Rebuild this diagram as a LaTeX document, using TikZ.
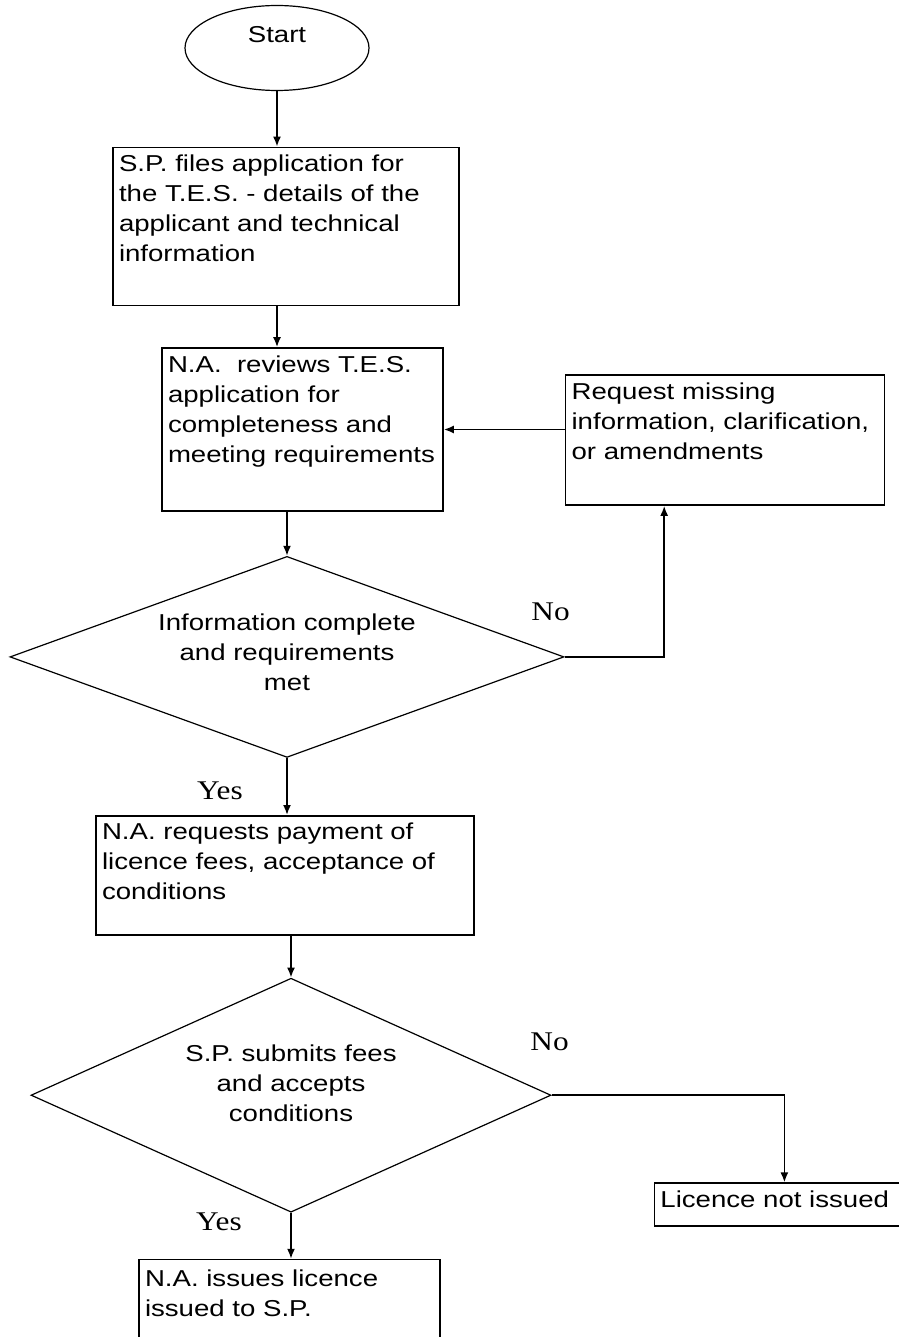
\documentclass[tikz,border=0pt]{standalone}
\usepackage{fontspec}
\setmainfont{Liberation Sans}[FakeStretch=1.2]
\newfontfamily\answerFont{Liberation Serif}[FakeStretch=1.16]
\usepackage{xcolor}
\definecolor{lineDark}{HTML}{000000}
\usetikzlibrary{shapes,positioning,calc,arrows.meta}
\tikzset{
  startOval/.style={
    ellipse,
    draw=lineDark,
    line width=1.2pt,
    minimum width=184pt,
    minimum height=85pt,
    inner sep=0pt,
    text height=17pt,
    text depth=27pt,
    font=\fontsize{23pt}{30pt}\selectfont
 },
  procBox/.style={
    rectangle,
    draw=lineDark,
    line width=1.6pt,
    inner xsep=6pt,
    inner ysep=3pt,
    text height=21pt,
    align=left,
    font=\fontsize{23pt}{30pt}\selectfont
 },
  decisionBox/.style={
    diamond,
    draw=lineDark,
    line width=1.2pt,
    inner sep=0pt,
    text height=17pt,
    align=center,
    font=\fontsize{23pt}{30pt}\selectfont
 },
  answerText/.style={
    inner sep=0pt,
    font=\answerFont\fontsize{27pt}{27pt}\selectfont
 },
  arrowLine/.style={
    -{Latex[length=10pt,width=8pt]},
    line width=1.8pt,
    color=lineDark
 }
}
\begin{document}
\begin{tikzpicture}[x=1pt, y=1pt]
            \useasboundingbox (0,0) rectangle (898,-1337);
            \node[startOval] (start) at (277,-48) {Start};
            \node[procBox, text width=334pt, text depth=131pt, below=55.5pt of start, xshift=9pt] (files) {S.P. files application for\\the T.E.S. - details of the\\applicant and technical\\information};
            \node[procBox, text width=269pt, text depth=136pt, below=41pt of files, xshift=16.5pt] (reviews) {N.A.~ reviews T.E.S.\\application for\\completeness and\\meeting requirements};
            \node[procBox, text width=307pt, text depth=103pt, right=121pt of reviews, yshift=-10.5pt] (request) {Request missing\\information, clarification,\\or amendments};
            \node[decisionBox, text width=262pt, text depth=70pt, aspect=2.76, minimum width=554pt, minimum height=201pt, below=44pt of reviews, xshift=-15.5pt] (complete) {Information complete\\and requirements\\met};
            \node[procBox, text width=366pt, text depth=92pt, below=57pt of complete, xshift=-2pt] (payment) {N.A. requests payment of\\licence fees, acceptance of\\conditions};
            \node[decisionBox, text width=230pt, text depth=85pt, aspect=2.22, minimum width=520pt, minimum height=234pt, below=42pt of payment, xshift=6pt] (submit) {S.P. submits fees\\and accepts\\conditions};
            \node[procBox, text width=248pt, text depth=16pt, right=102pt of submit, yshift=-109.5pt] (notIssued) {Licence not issued};
            \node[procBox, text width=289pt, text height=24pt, text depth=110pt, below=46pt of submit, xshift=-1.5pt] (issued) {N.A. issues licence\\issued to S.P.};

            % Yes / No answers
            \node[answerText, above=35.5pt of complete.east, xshift=-14pt] (noComplete) {No};
            \node[answerText, below=24pt of complete.south, xshift=-67pt] (yesComplete) {Yes};
            \node[answerText, above=44pt of submit.east, xshift=-2pt] (noSubmit) {No};
            \node[answerText, below=0pt of submit.south, xshift=-72pt] (yesSubmit) {Yes};

            \draw[arrowLine] (start) -- (start |- files.north);
            \draw[arrowLine] (start |- files.south) -- (start |- reviews.north);
            \draw[arrowLine] (complete |- reviews.south) -- (complete.north);
            \draw[arrowLine] (reviews.east -| request.west) -- (reviews.east);
            \draw[arrowLine] (complete.east) -| ($(request.south west)!0.31!(request.south east)$);
            \draw[arrowLine] (complete.south) -- (complete.south |- payment.north);
            \draw[arrowLine] (submit |- payment.south) -- (submit.north);
            \draw[arrowLine] (submit.east) -| (notIssued.north);
            \draw[arrowLine] (submit.south) -- (submit.south |- issued.north);
        \end{tikzpicture}
\end{document}
